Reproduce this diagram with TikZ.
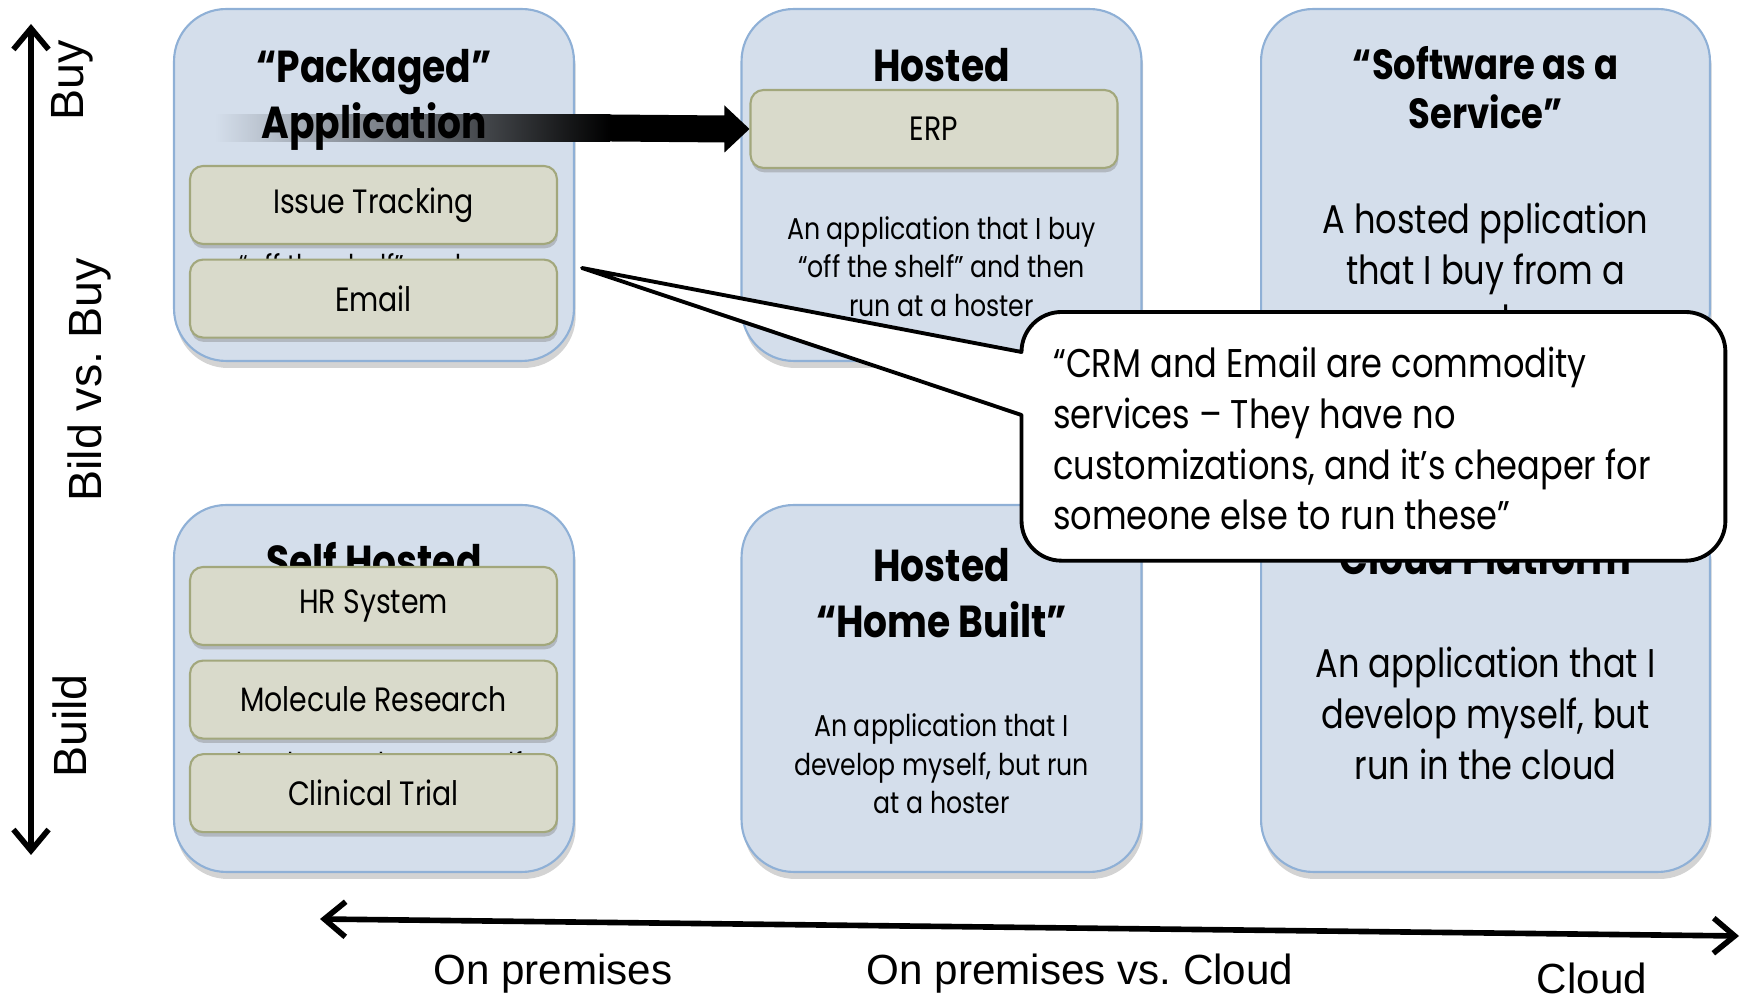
\documentclass[tikz,border=0pt]{standalone}
\usepackage{fontspec}
\setmainfont{Poppins}[FakeStretch=0.84]
\newfontfamily\axisfont{Liberation Sans}
\usetikzlibrary{positioning,arrows.meta,shadows}
\definecolor{panelfill}{RGB}{212,222,235}
\definecolor{panelline}{RGB}{143,176,214}
\definecolor{pillfill}{RGB}{217,218,203}
\definecolor{pillline}{RGB}{162,167,124}
\tikzset{
panel/.style 2 args={
  rectangle,
  rounded corners=1.04cm,
  draw=panelline,
  line width=1.2pt,
  fill=panelfill,
  minimum width=#1,
  minimum height=#2,
  inner sep=0pt,
  drop shadow={shadow xshift=1pt,shadow yshift=-4pt,opacity=.35}
  },
pill/.style={
  rectangle,
  rounded corners=0.26cm,
  draw=pillline,
  line width=1.2pt,
  fill=pillfill,
  minimum width=7.34cm,
  minimum height=1.56cm,
  inner sep=0pt,
  font=\fontsize{19.2}{22}\selectfont,
  drop shadow={shadow xshift=0.5pt,shadow yshift=-2.5pt,opacity=.4}
  },
paneltitle/.style={font=\fontsize{25.5}{32}\selectfont\bfseries, align=center},
desc/.style={font=\fontsize{17.1}{21.8}\selectfont, align=center},
hiddendesc/.style={font=\fontsize{17.1}{26}\selectfont, align=center},
bigdesc/.style={font=\fontsize{22.8}{29}\selectfont, align=center},
axislabel/.style={font=\axisfont\fontsize{24}{29}\selectfont},
sidelabel/.style={font=\axisfont\fontsize{26.5}{31}\selectfont, rotate=90},
axisarrow/.style={line width=3.2pt,
  {Straight Barb[length=12pt,width=20pt]}-{Straight Barb[length=12pt,width=20pt]}}
}

\begin{document}
\begin{tikzpicture}[x=0.02cm,y=0.02cm]
\useasboundingbox (0,0) rectangle (1741,1000);

\node[panel={8cm}{7.04cm}] (packaged) at (374,815) {};
\node[panel={8cm}{7.04cm}] (hosted) at (941.5,815) {};
\node[panel={8.98cm}{7.04cm}] (saas) at (1485.5,815) {};
\node[panel={8cm}{7.34cm}] (self) at (374,311.5) {};
\node[panel={8cm}{7.34cm}] (homebuilt) at (941.5,311.5) {};
\node[panel={8.98cm}{7.34cm}] (cloud) at (1485.5,311.5) {};

\node[hiddendesc] (packaged-text) at (374,731) {An application that I buy\\“off the shelf” and run\\on premises};
\node[hiddendesc] (self-text) at (374,233) {An application that I\\develop and run myself\\on premises};
\node[paneltitle] (self-title) at (374,440) {Self Hosted};

\node[pill] (issue) at (373.5,795) {Issue Tracking};
\node[pill,below=0.27cm of issue] (email) {Email};
\node[pill] (erp) at (934,871) {ERP};
\node[pill] (hr) at (373.5,394) {HR System};
\node[pill,below=0.27cm of hr] (molecule) {Molecule Research};
\node[pill,below=0.27cm of molecule] (clinical) {Clinical Trial};

\coordinate (fade-start) at (215,872);
\coordinate (fade-end) at (610,872);
\shade[left color=panelfill,right color=black]
  ([yshift=-0.27cm]fade-start) rectangle ([yshift=0.27cm]fade-end);
\fill[black] ([yshift=-0.27cm]fade-end) -- ([xshift=-0.5cm,yshift=-0.27cm]erp.west)
  -- ([xshift=-0.5cm,yshift=-0.47cm]erp.west) -- (erp.west)
  -- ([xshift=-0.5cm,yshift=0.47cm]erp.west) -- ([xshift=-0.5cm,yshift=0.27cm]erp.west)
  -- ([yshift=0.27cm]fade-end) -- cycle;

\node[paneltitle] (packaged-title) at (374,900) {“Packaged”\\Application};
\node[paneltitle] (hosted-title) at (941.5,935) {Hosted};
\node[paneltitle,font=\fontsize{24}{28}\selectfont\bfseries] (saas-title) at (1485.5,912.5) {“Software as a\\Service”};
\node[paneltitle] (homebuilt-title) at (941.5,407) {Hosted\\“Home Built”};
\node[paneltitle] (cloud-title) at (1485.5,443) {Cloud Platform};

\node[desc] (hosted-text) at (941.5,733.5) {An application that I buy\\“off the shelf” and then\\run at a hoster};
\node[bigdesc] (saas-text) at (1485.5,731) {A hosted pplication\\that I buy from a\\vendor};
\node[desc] (homebuilt-text) at (941.5,236) {An application that I\\develop myself, but run\\at a hoster};
\node[bigdesc] (cloud-text) at (1485.5,287) {An application that I\\develop myself, but\\run in the cloud};

\coordinate (tip) at (582,732);
\draw[line width=2.2pt,fill=white,line join=round] (tip) -- (1021.5,648)
  arc[start angle=180,end angle=90,radius=40] -- (1685.4,688)
  arc[start angle=90,end angle=0,radius=40] -- (1725.4,479.3)
  arc[start angle=0,end angle=-90,radius=40] -- (1061.5,439.3)
  arc[start angle=270,end angle=180,radius=40] -- (1021.5,585) -- cycle;
\node[bigdesc,align=left,anchor=west] (quote) at (1047,561.5) {“CRM and Email are commodity\\services – They have no\\customizations, and it’s cheaper for\\someone else to run these”};

\coordinate (buy) at (31,976);
\coordinate (build) at (31,145);
\draw[axisarrow] (build) -- (buy);
\coordinate (onprem) at (320,81);
\coordinate (cloudend) at (1739,64);
\draw[axisarrow] (onprem) -- (cloudend);

\node[sidelabel] (buy-label) at (72,920) {Buy};
\node[sidelabel] (bvb-label) at (89,620) {Bild vs.\ Buy};
\node[sidelabel] (build-label) at (70,274) {Build};
\node[axislabel] (onprem-label) at (553,26) {On premises};
\node[axislabel] (opvc-label) at (1080,26) {On premises vs.\ Cloud};
\node[axislabel] (cloud-label) at (1592,22) {Cloud};
\end{tikzpicture}
\end{document}
